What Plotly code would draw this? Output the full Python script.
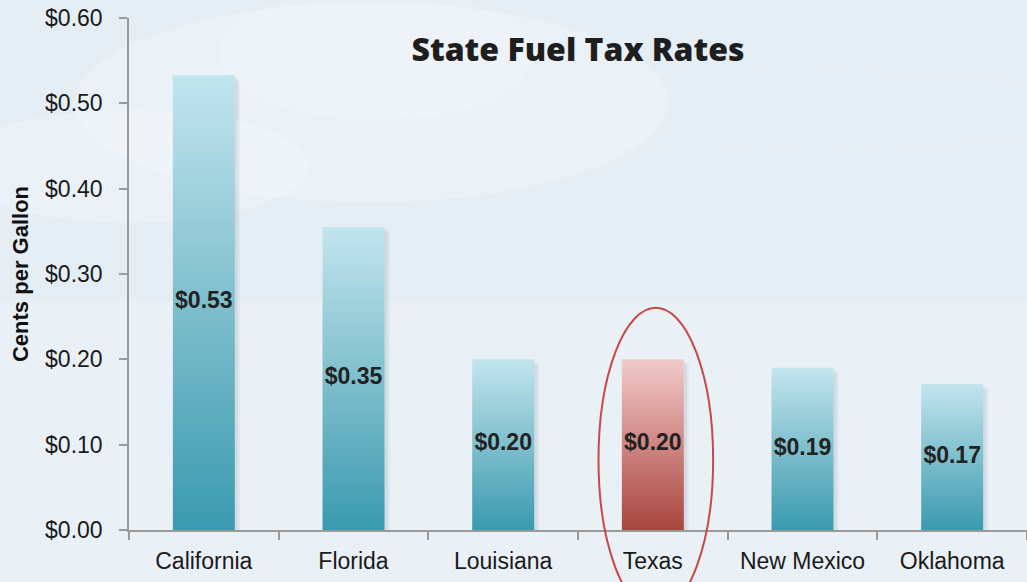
import plotly.graph_objects as go

# ---- data ----
states = ["California", "Florida", "Louisiana", "Texas", "New Mexico", "Oklahoma"]
rates = [0.533, 0.355, 0.20, 0.20, 0.19, 0.171]
rate_labels = ["$0.53", "$0.35", "$0.20", "$0.20", "$0.19", "$0.17"]
highlight = "Texas"
y_tick_vals = [0.0, 0.1, 0.2, 0.3, 0.4, 0.5, 0.6]
y_tick_text = ["$0.00", "$0.10", "$0.20", "$0.30", "$0.40", "$0.50", "$0.60"]
title_text = "State Fuel Tax Rates"
y_title = "Cents per Gallon"

# ---- style ----
BAR_HALF = 0.207
BLUE_SCALE = [[0, "#3a9ab0"], [0.5, "#7fbfcd"], [1, "#c2e5ee"]]
RED_SCALE = [[0, "#a8463e"], [0.5, "#cf8683"], [1, "#f2cbca"]]
FONT = "Liberation Sans, Arial, sans-serif"

fig = go.Figure()

# soft drop shadows (two layers for a blurred look)
for dx, dy, op in [(0.035, 0.006, 0.06), (0.02, 0.003, 0.08)]:
    for i, v in enumerate(rates):
        x0, x1 = i - BAR_HALF - 0.01 + dx, i + BAR_HALF + dx
        fig.add_trace(go.Scatter(
            x=[x0, x1, x1, x0, x0], y=[-dy, -dy, v - dy, v - dy, -dy],
            mode="lines", line=dict(width=0), fill="toself",
            fillcolor=f"rgba(60,80,100,{op})", hoverinfo="skip", showlegend=False))

# gradient bars
for i, (s, v) in enumerate(zip(states, rates)):
    x0, x1 = i - BAR_HALF, i + BAR_HALF
    fig.add_trace(go.Scatter(
        x=[x0, x1, x1, x0, x0], y=[0, 0, v, v, 0],
        mode="lines", line=dict(width=0), fill="toself",
        fillgradient=dict(type="vertical",
                          colorscale=RED_SCALE if s == highlight else BLUE_SCALE),
        name=s, hoverinfo="skip", showlegend=False))

# value labels
fig.add_trace(go.Scatter(
    x=list(range(len(states))), y=[v / 2 for v in rates],
    mode="text", text=rate_labels,
    textfont=dict(family=FONT, size=23, color="#222222", weight="bold"),
    hoverinfo="skip", showlegend=False))

# faint clouds in the background
clouds = [
    dict(x0=-0.06, x1=0.60, y0=0.64, y1=1.03, op=0.22),
    dict(x0=0.10, x1=0.45, y0=0.80, y1=1.06, op=0.14),
    dict(x0=-0.20, x1=0.20, y0=0.60, y1=0.82, op=0.22),
    dict(x0=0.30, x1=1.10, y0=0.74, y1=0.90, op=0.10),
]
shapes = []
for c in clouds:
    shapes.append(dict(type="circle", xref="paper", yref="paper", layer="below",
                       x0=c["x0"], x1=c["x1"], y0=c["y0"], y1=c["y1"],
                       fillcolor=f"rgba(255,255,255,{c['op']})", line=dict(width=0)))
# lighter lower half of the sky
shapes.append(dict(type="rect", xref="paper", yref="paper", layer="below",
                   x0=-0.2, x1=1.05, y0=-0.12, y1=0.45,
                   fillcolor="rgba(255,255,255,0.18)", line=dict(width=0)))

# highlight ellipse around Texas
ti = states.index(highlight)
shapes.append(dict(type="circle", xref="x", yref="paper", layer="above",
                   x0=ti + 0.02 - 0.383, x1=ti + 0.02 + 0.383, y0=-0.16, y1=0.434,
                   line=dict(color="#c9474a", width=2), fillcolor="rgba(0,0,0,0)"))

fig.update_layout(
    width=1027, height=582,
    margin=dict(l=129, r=0, t=18, b=52),
    paper_bgcolor="#e5eef5", plot_bgcolor="rgba(0,0,0,0)",
    shapes=shapes,
    title=dict(text=title_text, x=0.5, xref="paper", y=1 - 50 / 582, yref="container",
               xanchor="center", yanchor="middle",
               font=dict(family="Open Sans, sans-serif", size=32, color="#1e1e1e", weight=800)),
    xaxis=dict(range=[-0.5, 5.5], tickmode="array", tickvals=list(range(len(states))),
               ticktext=states, ticks="", showgrid=False, zeroline=False,
               showline=True, linecolor="#9a9a9a", linewidth=1.5,
               ticklabelstandoff=10,
               tickfont=dict(family=FONT, size=23, color="#1a1a1a"),
               minor=dict(tick0=0.5, dtick=1, ticks="outside", ticklen=8,
                          tickcolor="#9a9a9a", tickwidth=1.5, showgrid=False)),
    yaxis=dict(range=[0, 0.6], tickmode="array", tickvals=y_tick_vals, ticktext=y_tick_text,
               ticks="outside", ticklen=8, tickcolor="#9a9a9a", tickwidth=1.5,
               ticklabelstandoff=12,
               showgrid=False, zeroline=False, showline=True, linecolor="#9a9a9a",
               linewidth=1.5, tickfont=dict(family=FONT, size=23, color="#1a1a1a"),
               title=dict(text=y_title, standoff=10,
                          font=dict(family=FONT, size=22, color="#111111", weight="bold"))),
)

fig.write_html("out.html")
